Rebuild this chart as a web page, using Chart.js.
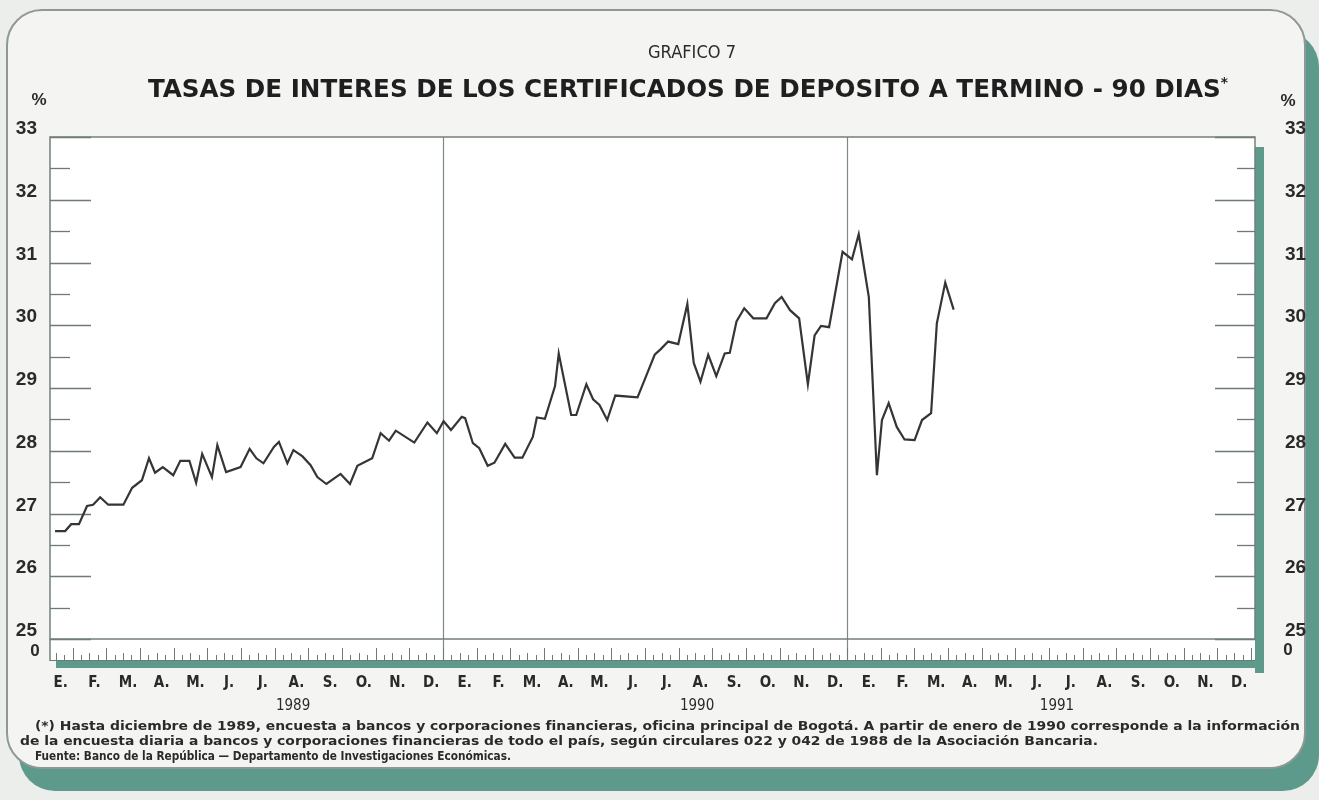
<!DOCTYPE html>
<html lang="es">
<head>
<meta charset="utf-8">
<title>Gráfico 7</title>
<script src="https://cdn.jsdelivr.net/npm/chart.js@4.4.1/dist/chart.umd.min.js"></script>
<style>
  html, body { margin: 0; padding: 0; background: #eceeec; }
  #lienzo { position: relative; width: 1319px; height: 800px; overflow: hidden; }
  .tarjeta {
    position: absolute; left: 6px; top: 9px; width: 1300px; height: 760px;
    box-sizing: border-box; border: 2px solid #8e9994; border-radius: 36px;
    background: #f4f5f2; box-shadow: 13px 22px 0 #5e9a8c;
  }
  canvas { position: absolute; left: 0; top: 0; }
  .txt {
    position: absolute; white-space: nowrap; transform-origin: 0 0; color: #2a2a2a;
    font-family: "Liberation Sans Narrow", "DejaVu Sans Condensed", "Liberation Sans", sans-serif;
  }
  #grafico { top: 41px; font-size: 18px; }
  #titulo { top: 74px; font-size: 25px; font-weight: bold; color: #1f1f1f; }
  #titulo sup { font-size: 14px; vertical-align: 10px; }
  .nota { font-size: 13px; font-weight: bold; }
  #nota1 { top: 718px; }
  #nota2 { top: 733px; }
  #nota3 { top: 748px; }
</style>
</head>
<body>
<div id="lienzo">
  <div class="tarjeta"></div>
  <canvas id="tasasChart" width="1319" height="800"></canvas>
  <div class="txt" id="grafico">GRAFICO 7</div>
  <div class="txt" id="titulo">TASAS DE INTERES DE LOS CERTIFICADOS DE DEPOSITO A TERMINO - 90 DIAS<sup>*</sup></div>
  <div class="txt nota" id="nota1">(*) Hasta diciembre de 1989, encuesta a bancos y corporaciones financieras, oficina principal de Bogotá. A partir de enero de 1990 corresponde a la información</div>
  <div class="txt nota" id="nota2">de la encuesta diaria a bancos y corporaciones financieras de todo el país, según circulares 022 y 042 de 1988 de la Asociación Bancaria.</div>
  <div class="txt nota" id="nota3">Fuente: Banco de la República — Departamento de Investigaciones Económicas.</div>
</div>
<script>
// Meses (iniciales en español) para los tres años
const MESES = ['E.', 'F.', 'M.', 'A.', 'M.', 'J.', 'J.', 'A.', 'S.', 'O.', 'N.', 'D.',
               'E.', 'F.', 'M.', 'A.', 'M.', 'J.', 'J.', 'A.', 'S.', 'O.', 'N.', 'D.',
               'E.', 'F.', 'M.', 'A.', 'M.', 'J.', 'J.', 'A.', 'S.', 'O.', 'N.', 'D.'];
const ANIOS = ['1989', '1990', '1991'];
const POS_ANIOS = [7.55, 19.55, 30.24];   // posición del rótulo del año (en meses)
const SEPARADORES = [12, 24];             // fin de 1989 y de 1990

// Posición de cada observación (meses desde enero de 1989) y tasa (%)
const posicion = [0.48, 0.78, 0.96, 1.19, 1.43, 1.61, 1.82, 2.06, 2.51, 2.77,
                  3.06, 3.27, 3.45, 3.68, 3.99, 4.20, 4.47, 4.67, 4.85, 5.14,
                  5.30, 5.56, 5.99, 6.26, 6.46, 6.67, 6.98, 7.13, 7.38, 7.56,
                  7.83, 8.07, 8.27, 8.54, 8.96, 9.24, 9.46, 9.90, 10.15, 10.40,
                  10.60, 11.15, 11.54, 11.82, 12.02, 12.24, 12.56, 12.66, 12.89, 13.08,
                  13.33, 13.53, 13.85, 14.13, 14.36, 14.67, 14.79, 15.03, 15.33, 15.44,
                  15.81, 15.96, 16.26, 16.46, 16.65, 16.88, 17.12, 17.78, 18.05, 18.29,
                  18.47, 18.69, 18.99, 19.26, 19.45, 19.65, 19.88, 20.12, 20.37, 20.52,
                  20.72, 20.95, 21.22, 21.61, 21.86, 22.06, 22.31, 22.58, 22.84, 23.04,
                  23.23, 23.47, 23.87, 24.15, 24.35, 24.65, 24.89, 25.04, 25.24, 25.48,
                  25.71, 26.01, 26.23, 26.50, 26.67, 26.92, 27.17];
const tasa = [26.72, 26.72, 26.83, 26.83, 27.12, 27.14, 27.26, 27.14, 27.14, 27.41,
              27.53, 27.88, 27.65, 27.74, 27.61, 27.84, 27.84, 27.49, 27.95, 27.58,
              28.09, 27.66, 27.74, 28.03, 27.88, 27.80, 28.06, 28.14, 27.80, 28.01,
              27.91, 27.77, 27.58, 27.47, 27.63, 27.47, 27.76, 27.88, 28.28, 28.16,
              28.32, 28.13, 28.45, 28.28, 28.47, 28.33, 28.54, 28.52, 28.12, 28.04,
              27.76, 27.81, 28.11, 27.89, 27.89, 28.22, 28.53, 28.51, 29.03, 29.55,
              28.57, 28.57, 29.06, 28.82, 28.73, 28.49, 28.88, 28.85, 29.21, 29.53,
              29.62, 29.74, 29.70, 30.34, 29.40, 29.10, 29.53, 29.19, 29.55, 29.56,
              30.06, 30.27, 30.11, 30.11, 30.35, 30.45, 30.24, 30.11, 29.06, 29.84,
              29.99, 29.97, 31.17, 31.05, 31.45, 30.45, 27.61, 28.49, 28.76, 28.38,
              28.18, 28.17, 28.49, 28.60, 30.03, 30.68, 30.25];

const FUENTE = '"Liberation Sans Narrow", "DejaVu Sans Condensed", "Liberation Sans", sans-serif';
const GRIS = '#6d7a75';
const VERDE = '#5e9a8c';

// Marco, franja inferior, marcas interiores y rótulos sueltos
const marcoPlugin = {
    id: 'marco',
    beforeDatasetsDraw(chart) {
        const { ctx, chartArea: a, scales } = chart;
        const xs = scales.x;
        ctx.save();
        // sombra del marco
        ctx.fillStyle = VERDE;
        ctx.fillRect(a.right, a.top + 10, 9, a.height + 24);
        ctx.fillRect(a.left + 6, a.bottom + 22, a.width + 3, 7);
        // fondo blanco y franja
        ctx.fillStyle = '#ffffff';
        ctx.fillRect(a.left, a.top, a.width, a.height + 22);

        // separadores de año
        ctx.strokeStyle = '#7f8a86';
        ctx.lineWidth = 1.2;
        SEPARADORES.forEach(m => {
            const px = Math.round(xs.getPixelForValue(m)) + 0.5;
            ctx.beginPath(); ctx.moveTo(px, a.top); ctx.lineTo(px, a.bottom + 22); ctx.stroke();
        });

        // marcas de la franja inferior (semanas y meses)
        ctx.strokeStyle = GRIS;
        ctx.lineWidth = 1;
        for (let k = 0; k <= 36 * 4; k++) {
            const m = k / 4;
            if (m < xs.min) continue;
            const px = Math.round(xs.getPixelForValue(m)) + 0.5;
            const h = k % 4 === 0 ? 13 : (k % 2 === 0 ? 8 : 6);
            ctx.beginPath(); ctx.moveTo(px, a.bottom + 22); ctx.lineTo(px, a.bottom + 22 - h); ctx.stroke();
        }
        ctx.beginPath(); ctx.moveTo(a.left, a.bottom + 21.5); ctx.lineTo(a.right, a.bottom + 21.5); ctx.stroke();

        // marcas interiores de los ejes verticales
        ctx.strokeStyle = GRIS;
        ctx.lineWidth = 1.3;
        scales.y.ticks.forEach(t => {
            const py = Math.round(scales.y.getPixelForValue(t.value)) + 0.5;
            const entero = Number.isInteger(t.value);
            ctx.beginPath(); ctx.moveTo(a.left, py); ctx.lineTo(a.left + (entero ? 41 : 20), py); ctx.stroke();
            ctx.beginPath(); ctx.moveTo(a.right, py); ctx.lineTo(a.right - (entero ? 40 : 18), py); ctx.stroke();
        });

        // borde del marco
        ctx.strokeStyle = '#747f7b';
        ctx.lineWidth = 1.5;
        ctx.strokeRect(a.left, a.top, a.width, a.height);
        ctx.beginPath(); ctx.moveTo(a.left, a.bottom); ctx.lineTo(a.left, a.bottom + 22); ctx.stroke();

        // rótulos: %, 0 y años
        ctx.fillStyle = '#2a2a2a';
        ctx.font = 'bold 17px "Liberation Sans", sans-serif';
        ctx.textAlign = 'center';
        ctx.textBaseline = 'middle';
        ctx.fillText('%', a.left - 11, a.top - 37);
        ctx.fillText('%', a.right + 33, a.top - 36);
        ctx.fillText('0', a.left - 15, a.bottom + 12);
        ctx.fillText('0', a.right + 33, a.bottom + 11);
        ctx.font = '15px ' + FUENTE;
        ANIOS.forEach((anio, i) => {
            ctx.fillText(anio, xs.getPixelForValue(POS_ANIOS[i]), a.bottom + 67);
        });
        ctx.restore();
    }
};

const ctx = document.getElementById('tasasChart').getContext('2d');
const ejeY = (lado, ancho, relleno) => ({
    type: 'linear',
    position: lado,
    min: 25,
    max: 33,
    afterBuildTicks(scale) {
        const marcas = [];
        for (let v = 25; v <= 33; v += 0.5) marcas.push({ value: v });
        scale.ticks = marcas;
    },
    afterFit(scale) { scale.width = ancho; },
    grid: { display: false },
    border: { display: false },
    ticks: {
        callback: v => Number.isInteger(v) ? String(v) : '',
        labelOffset: -8,
        padding: relleno,
        color: '#2a2a2a',
        font: { family: '"Liberation Sans", sans-serif', size: 19, weight: 'bold' }
    }
});

new Chart(ctx, {
    type: 'line',
    data: {
        datasets: [{
            label: 'Tasa CDT 90 días',
            data: posicion.map((m, i) => ({ x: m, y: tasa[i] })),
            borderColor: '#353535',
            borderWidth: 2.2,
            pointRadius: 0,
            fill: false,
            tension: 0
        }]
    },
    options: {
        responsive: false,
        animation: false,
        devicePixelRatio: 1,
        layout: { padding: { top: 137, bottom: 101, left: 0, right: 0 } },
        plugins: { legend: { display: false }, tooltip: { enabled: false }, title: { display: false } },
        scales: {
            x: {
                type: 'linear',
                min: 0.33,
                max: 36.12,
                // rótulos de mes, algo a la derecha del centro como en el original
                afterBuildTicks(scale) { scale.ticks = MESES.map((_, i) => ({ value: i + 0.65 })); },
                afterFit(scale) { scale.height = 60; },
                grid: { display: false },
                border: { display: false },
                ticks: {
                    autoSkip: false,
                    maxRotation: 0,
                    padding: 27,
                    callback: (v, i) => MESES[i],
                    color: '#2a2a2a',
                    font: { family: FUENTE, size: 15, weight: 'bold' }
                }
            },
            y: ejeY('left', 50, 5),
            y2: ejeY('right', 64, 22)
        }
    },
    plugins: [marcoPlugin]
});

// Ajuste horizontal de los textos al ancho del original
function ajustar(id, izquierda, ancho) {
    const el = document.getElementById(id);
    el.style.left = izquierda + 'px';
    const w = el.getBoundingClientRect().width;
    el.style.transform = 'scaleX(' + (ancho / w) + ')';
}
ajustar('grafico', 648, 88);
ajustar('titulo', 148, 1080);
ajustar('nota1', 35, 1265);
ajustar('nota2', 20, 1078);
ajustar('nota3', 35, 476);
</script>
</body>
</html>
